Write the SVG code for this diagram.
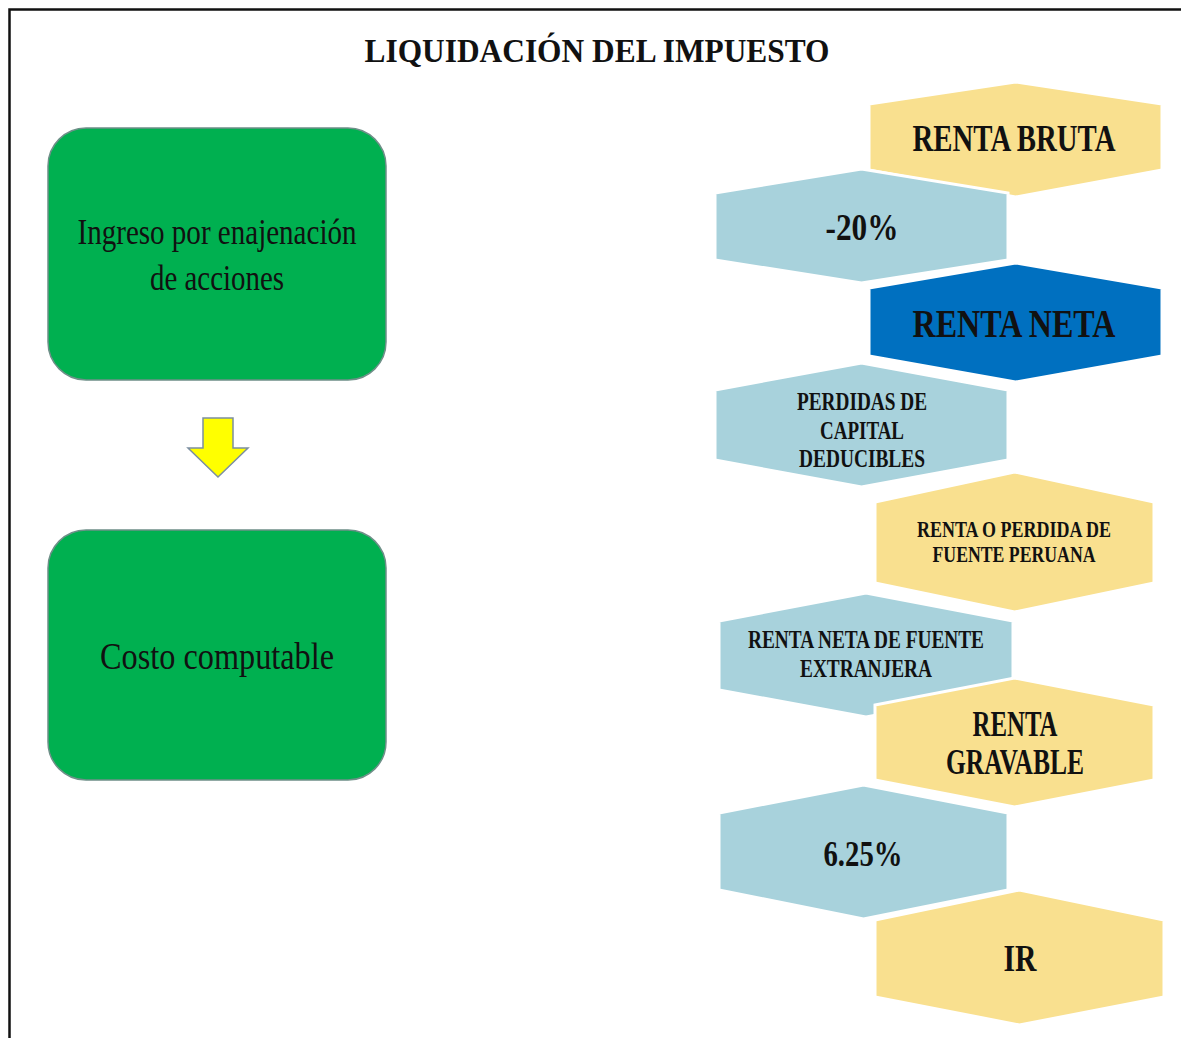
<svg xmlns="http://www.w3.org/2000/svg" width="1181" height="1038" viewBox="0 0 1181 1038">
<style>
.serif{font-family:"Liberation Serif","Times New Roman",serif;fill:#111;}
.b{font-weight:bold;}
.box{fill:#00B050;stroke:#6E8F88;stroke-width:1.5;}
.hex{stroke:#fff;stroke-width:3;stroke-linejoin:miter;}
.y{fill:#F9E08F;}
.lb{fill:#A8D2DC;}
.db{fill:#0070C0;}
</style>
<rect x="0" y="0" width="1181" height="1038" fill="#fff"/>
<path d="M9.5,1038 V9.5 H1181" fill="none" stroke="#111" stroke-width="2.5"/>
<text class="serif b" x="597" y="62" font-size="34" text-anchor="middle" textLength="465" lengthAdjust="spacingAndGlyphs">LIQUIDACIÓN DEL IMPUESTO</text>

<g id="node-ingreso">
<rect class="box" x="48" y="128" width="338" height="252" rx="38"/>
<text class="serif" x="217" y="244" font-size="35" text-anchor="middle" textLength="279" lengthAdjust="spacingAndGlyphs">Ingreso por enajenación</text>
<text class="serif" x="217" y="290" font-size="35" text-anchor="middle" textLength="134" lengthAdjust="spacingAndGlyphs">de acciones</text>
</g>
<g id="node-costo">
<rect class="box" x="48" y="530" width="338" height="250" rx="38"/>
<text class="serif" x="217" y="669" font-size="37" text-anchor="middle" textLength="234" lengthAdjust="spacingAndGlyphs">Costo computable</text>
</g>
<g id="connectors">
<polygon points="203,418 233,418 233,448 248,448 218,477 188,448 203,448" fill="#FFFF00" stroke="#7C8FA0" stroke-width="1.5"/>
</g>

<g id="node-renta-bruta">
<polygon class="hex y" points="869,104 1015.5,82 1162,104 1162,170 1015.5,197 869,170"/>
<text class="serif b" x="1014" y="151" font-size="38" text-anchor="middle" textLength="203" lengthAdjust="spacingAndGlyphs">RENTA BRUTA</text>
</g>
<g id="node-menos20">
<polygon class="hex lb" points="715,193 861.5,169 1008,193 1008,260 861.5,283 715,260"/>
<text class="serif b" x="862" y="240" font-size="38" text-anchor="middle" textLength="73" lengthAdjust="spacingAndGlyphs">-20%</text>
</g>
<g id="node-renta-neta">
<polygon class="hex db" points="869,288 1015.5,263 1162,288 1162,356 1015.5,382 869,356"/>
<text class="serif b" x="1014" y="337" font-size="40" text-anchor="middle" textLength="203" lengthAdjust="spacingAndGlyphs">RENTA NETA</text>
</g>
<g id="node-perdidas">
<polygon class="hex lb" points="715,390 861.5,363 1008,390 1008,460 861.5,487 715,460"/>
<text class="serif b" x="862" y="410" font-size="25" text-anchor="middle" textLength="130" lengthAdjust="spacingAndGlyphs">PERDIDAS DE</text>
<text class="serif b" x="862" y="439" font-size="25" text-anchor="middle" textLength="84" lengthAdjust="spacingAndGlyphs">CAPITAL</text>
<text class="serif b" x="862" y="467" font-size="25" text-anchor="middle" textLength="126" lengthAdjust="spacingAndGlyphs">DEDUCIBLES</text>
</g>
<g id="node-renta-perdida">
<polygon class="hex y" points="875,502 1014.5,472 1154,502 1154,583 1014.5,612 875,583"/>
<text class="serif b" x="1014" y="537" font-size="24" text-anchor="middle" textLength="194" lengthAdjust="spacingAndGlyphs">RENTA O PERDIDA DE</text>
<text class="serif b" x="1014" y="562" font-size="24" text-anchor="middle" textLength="163" lengthAdjust="spacingAndGlyphs">FUENTE PERUANA</text>
</g>
<g id="node-extranjera">
<polygon class="hex lb" points="719,621 866,593 1013,621 1013,690 866,717 719,690"/>
<text class="serif b" x="866" y="648" font-size="25" text-anchor="middle" textLength="236" lengthAdjust="spacingAndGlyphs">RENTA NETA DE FUENTE</text>
<text class="serif b" x="866" y="677" font-size="25" text-anchor="middle" textLength="132" lengthAdjust="spacingAndGlyphs">EXTRANJERA</text>
</g>
<g id="node-gravable">
<polygon class="hex y" points="875,705 1014.5,678 1154,705 1154,780 1014.5,807 875,780"/>
<text class="serif b" x="1015" y="736" font-size="35" text-anchor="middle" textLength="85" lengthAdjust="spacingAndGlyphs">RENTA</text>
<text class="serif b" x="1015" y="774" font-size="35" text-anchor="middle" textLength="138" lengthAdjust="spacingAndGlyphs">GRAVABLE</text>
</g>
<g id="node-625">
<polygon class="hex lb" points="719,813 863.5,785 1008,813 1008,890 863.5,919 719,890"/>
<text class="serif b" x="863" y="866" font-size="36" text-anchor="middle" textLength="79" lengthAdjust="spacingAndGlyphs">6.25%</text>
</g>
<g id="node-ir">
<polygon class="hex y" points="875,920 1019.5,890 1164,920 1164,997 1019.5,1025 875,997"/>
<text class="serif b" x="1020" y="971" font-size="38" text-anchor="middle" textLength="33" lengthAdjust="spacingAndGlyphs">IR</text>
</g>
</svg>
